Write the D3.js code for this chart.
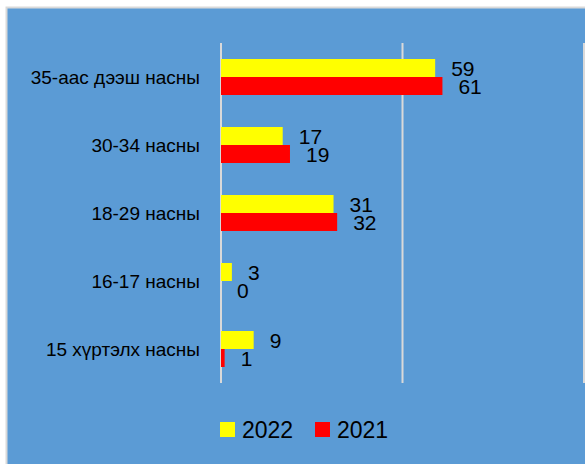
<!DOCTYPE html>
<html>
<head>
<meta charset="utf-8">
<script src="https://cdn.jsdelivr.net/npm/d3@7"></script>
<style>
  body { margin: 0; background: #fff; }
  text { font-family: 'Liberation Sans', Arial, sans-serif; fill: #000; }
</style>
</head>
<body>
<div id="graph"></div>
<script>
var categories = ['35-аас дээш насны', '30-34 насны', '18-29 насны', '16-17 насны', '15 хүртэлх насны']
var values2022 = [59, 17, 31, 3, 9]
var values2021 = [61, 19, 32, 0, 1]
var seriesNames = ['2022', '2021']
var xTicks = [0, 50, 100]

var colors = {'2022': '#ffff00', '2021': '#ff0000'}

var width = 585, height = 464

var svg = d3.select('#graph').append('svg')
    .attr('width', width)
    .attr('height', height)

// blue chart area with thin grey frame
svg.append('rect')
    .attr('x', 6.5).attr('y', 7.5)
    .attr('width', width).attr('height', height)
    .attr('fill', '#5b9bd5')
    .attr('stroke', '#d9d9d9')
    .attr('stroke-width', 2)

var x = d3.scaleLinear().domain([0, 100]).range([221, 584])
var y = d3.scaleBand().domain(categories).range([43, 383])

var barH = 18

// gridlines
svg.selectAll('line.grid')
    .data(xTicks)
  .join('line')
    .attr('class', 'grid')
    .attr('x1', d => x(d)).attr('x2', d => x(d))
    .attr('y1', 43).attr('y2', 383)
    .attr('stroke', '#d9d9d9')
    .attr('stroke-width', 2)

var rows = categories.map(function(c, i) {
  return [
    {cat: c, key: '2022', value: values2022[i], off: -barH},
    {cat: c, key: '2021', value: values2021[i], off: 0}
  ]
}).flat()

var mid = d => y(d.cat) + y.bandwidth() / 2

svg.selectAll('rect.bar')
    .data(rows)
  .join('rect')
    .attr('class', 'bar')
    .attr('x', x(0))
    .attr('y', d => mid(d) + d.off)
    .attr('width', d => x(d.value) - x(0))
    .attr('height', barH)
    .attr('fill', d => colors[d.key])

// value labels (they touch each other in the original too)
svg.selectAll('text.val')
    .data(rows)
  .join('text')
    .attr('class', 'val')
    .attr('x', d => x(d.value) + 16)
    .attr('y', d => mid(d) + d.off + barH / 2)
    .attr('dy', '0.36em')
    .style('font-size', '21px')
    .text(d => d.value)

// category labels
svg.selectAll('text.cat')
    .data(categories)
  .join('text')
    .attr('class', 'cat')
    .attr('x', 200)
    .attr('y', d => y(d) + y.bandwidth() / 2)
    .attr('dy', '0.36em')
    .attr('text-anchor', 'end')
    .style('font-size', '19px')
    .text(d => d)

// legend
var legend = svg.selectAll('g.legend')
    .data(seriesNames)
  .join('g')
    .attr('class', 'legend')
    .attr('transform', (d, i) => 'translate(' + (220 + i * 95) + ',422)')

legend.append('rect')
    .attr('width', 15).attr('height', 15)
    .attr('fill', d => colors[d])

legend.append('text')
    .attr('x', 22).attr('y', 8)
    .attr('dy', '0.36em')
    .style('font-size', '23px')
    .text(d => d)
</script>
</body>
</html>
